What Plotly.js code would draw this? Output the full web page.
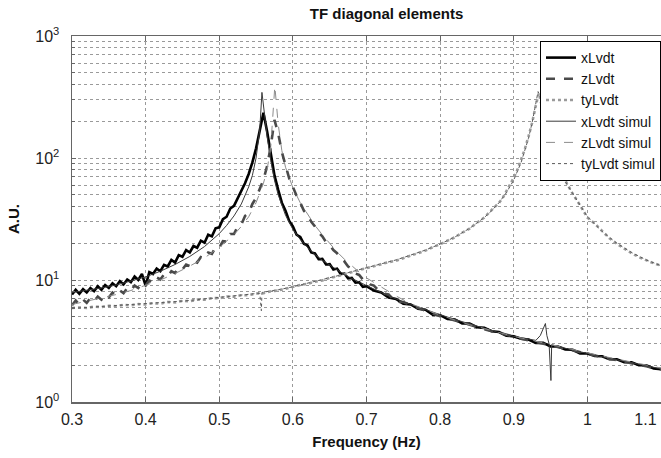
<!DOCTYPE html>
<html>
<head>
<meta charset="utf-8">
<script src="https://cdn.plot.ly/plotly-3.0.1.min.js"></script>
<style>html,body{margin:0;padding:0;background:#fff;}#chart{width:661px;height:458px;}</style>
</head>
<body>
<div id="chart"></div>
<script>
// ---------- data ----------
var seriesNames = ['xLvdt', 'zLvdt', 'tyLvdt', 'xLvdt simul', 'zLvdt simul', 'tyLvdt simul'];

var xLvdtF = [0.300,0.305,0.310,0.315,0.320,0.325,0.330,0.335,0.340,0.345,0.350,0.355,0.360,0.365,0.370,0.375,0.380,0.385,0.390,0.395,
  0.400,0.405,0.410,0.415,0.420,0.425,0.430,0.435,0.440,0.445,0.450,0.455,0.460,0.465,0.470,0.475,0.480,0.485,0.490,0.495,
  0.500,0.505,0.510,0.515,0.520,0.525,0.530,0.535,0.540,0.545,0.550,0.555,0.560,0.565,0.570,0.575,0.580,0.585,0.590,0.595,
  0.600,0.605,0.610,0.615,0.620,0.625,0.630,0.635,0.640,0.645,0.650,0.655,0.660,0.665,0.670,0.675,0.680,0.685,0.690,0.695,
  0.700,0.71,0.72,0.73,0.74,0.75,0.76,0.77,0.78,0.79,0.80,0.81,0.82,0.83,0.84,0.85,0.86,0.87,0.88,0.89,
  0.90,0.91,0.92,0.93,0.94,0.95,0.96,0.97,0.98,0.99,1.00,1.01,1.02,1.03,1.04,1.05,1.06,1.07,1.08,1.09,1.10];
var xLvdtA = [7.6,8.3,7.7,8.4,7.9,8.6,8.1,8.9,8.3,9.1,8.6,9.4,8.9,9.8,9.2,10.1,9.6,10.7,10.0,11.2,
  9.0,11.6,11.2,12.4,11.8,13.3,12.9,14.6,13.9,16.0,15.5,17.6,16.8,19.0,18.4,21.0,20.2,23.5,22.8,26.5,
  27.0,31.5,33.0,38.5,40.5,47.0,53.0,62.0,74.0,92.0,120,170,235,165,108,72,55,43,37,30.5,
  27.5,23.5,22.5,19.8,19.2,16.8,16.5,14.8,14.9,13.4,13.5,12.2,12.4,11.2,11.3,10.3,10.4,9.5,9.6,8.8,
  8.9,8.2,7.9,7.2,7.0,6.4,6.3,5.8,5.7,5.2,5.15,4.8,4.75,4.4,4.4,4.1,4.05,3.8,3.75,3.5,
  3.45,3.3,3.25,3.05,3.05,2.85,2.85,2.7,2.68,2.5,2.5,2.38,2.37,2.24,2.24,2.12,2.12,2.0,2.0,1.88,1.86];

var zLvdtF = [0.300,0.305,0.310,0.315,0.320,0.325,0.330,0.335,0.340,0.345,0.350,0.355,0.360,0.365,0.370,0.375,0.380,0.385,0.390,0.395,
  0.400,0.405,0.410,0.415,0.420,0.425,0.430,0.435,0.440,0.445,0.450,0.455,0.460,0.465,0.470,0.475,0.480,0.485,0.490,0.495,
  0.500,0.505,0.510,0.515,0.520,0.525,0.530,0.535,0.540,0.545,0.550,0.555,0.560,0.565,0.570,0.575,0.580,0.585,0.590,0.595,
  0.600,0.605,0.610,0.615,0.620,0.625,0.630,0.635,0.640,0.645,0.650,0.655,0.660,0.665,0.670,0.675,0.680,0.685,0.690,0.695,
  0.700,0.705,0.710,0.715,0.720,0.725,0.730,0.735,0.740,0.745,0.750,
  0.76,0.77,0.78,0.79,0.80,0.81,0.82,0.83,0.84,0.85,0.86,0.87,0.88,0.89,
  0.90,0.91,0.92,0.93,0.94,0.95,0.96,0.97,0.98,0.99,1.00,1.01,1.02,1.03,1.04,1.05,1.06,1.07,1.08,1.09,1.10];
var zLvdtA = [6.2,6.8,6.3,6.9,6.5,7.1,6.7,7.3,6.9,7.6,7.2,7.9,7.5,8.2,7.8,8.6,8.2,9.0,8.6,9.5,
  9.0,9.9,9.5,10.5,10.1,11.1,10.7,11.8,11.4,12.6,12.2,13.4,13.0,14.3,13.9,15.4,15.0,16.8,16.4,18.6,
  18.4,20.8,20.6,23.8,23.8,27.5,28.5,33.5,35.5,42.0,47.0,56.0,66.0,86.0,125,205,160,112,86,68,
  58,49,43,37,34,30,27.5,24.5,22.8,20.5,19.4,17.6,16.6,15.0,14.2,12.9,12.4,11.3,11.0,10.1,
  9.9,9.2,9.0,8.4,8.3,7.7,7.6,7.1,7.1,6.6,6.6,
  6.25,5.85,5.6,5.3,5.05,4.85,4.6,4.45,4.25,4.1,3.95,3.8,3.7,3.55,
  3.45,3.3,3.2,3.1,3.0,2.9,2.8,2.72,2.62,2.55,2.48,2.4,2.32,2.26,2.2,2.13,2.08,2.02,1.96,1.9,1.85];

var tyLvdtF = [0.30,0.31,0.32,0.33,0.34,0.35,0.36,0.37,0.38,0.39,0.40,0.41,0.42,0.43,0.44,0.45,0.46,0.47,0.48,0.49,
  0.50,0.51,0.52,0.53,0.54,0.55,0.56,0.57,0.58,0.59,0.60,0.61,0.62,0.63,0.64,0.65,0.66,0.67,0.68,0.69,
  0.70,0.71,0.72,0.73,0.74,0.75,0.76,0.77,0.78,0.79,0.80,0.81,0.82,0.83,0.84,0.85,0.86,0.87,0.88,0.885,
  0.89,0.895,0.90,0.905,0.91,0.915,0.92,0.925,0.93,0.934,0.938,0.942,0.946,0.95,0.955,0.96,0.965,0.97,0.975,0.98,
  0.99,1.00,1.01,1.02,1.03,1.04,1.05,1.06,1.07,1.08,1.09,1.10];
var tyLvdtA = [5.9,5.95,5.9,6.05,6.0,6.15,6.1,6.25,6.2,6.35,6.3,6.45,6.4,6.6,6.55,6.75,6.7,6.9,6.9,7.1,
  7.1,7.3,7.3,7.5,7.5,7.75,7.8,8.1,8.2,8.5,8.7,9.1,9.3,9.7,9.9,10.4,10.7,11.2,11.6,12.1,
  12.5,13.0,13.4,14.0,14.4,15.1,15.8,16.6,17.4,18.6,19.6,21.0,22.4,24.4,26.4,29.5,32.5,37.5,43,47,
  53,60,69,80,97,118,150,195,270,340,270,205,160,128,105,87,74,65,58,51,
  41,32.5,29,25,22,19.8,18.0,16.6,15.4,14.5,13.7,13.1];

var xSimF = [0.30,0.32,0.34,0.36,0.38,0.40,0.42,0.44,0.46,0.48,0.50,0.51,0.52,0.53,0.54,0.545,0.55,0.555,0.558,0.561,
  0.565,0.57,0.575,0.58,0.59,0.60,0.61,0.62,0.63,0.64,0.65,0.66,0.67,0.68,0.69,0.70,0.72,0.74,0.76,0.78,
  0.80,0.82,0.84,0.86,0.88,0.90,0.92,0.93,0.936,0.940,0.943,0.945,0.948,0.9505,0.9515,0.96,0.98,1.00,1.02,1.04,1.06,1.08,1.10];
var xSimA = [7.9,8.2,8.6,9.1,9.8,10.6,11.8,13.4,15.6,18.8,24,28,33.5,42,58,72,100,170,345,240,
  150,95,66,50,34,26,21.5,18.5,16.2,14.5,13.2,12.1,11.1,10.3,9.6,9.0,7.9,7.0,6.3,5.7,
  5.2,4.75,4.35,4.0,3.7,3.45,3.25,3.2,3.5,4.0,4.4,3.5,3.0,1.5,2.95,2.85,2.65,2.5,2.35,2.22,2.1,1.98,1.87];

var zSimF = [0.30,0.32,0.34,0.36,0.38,0.40,0.42,0.44,0.46,0.48,0.50,0.52,0.53,0.54,0.55,0.56,0.565,0.57,0.5755,0.58,
  0.585,0.59,0.60,0.61,0.62,0.63,0.64,0.65,0.66,0.67,0.68,0.69,0.70,0.72,0.74,0.76,0.78,
  0.80,0.82,0.84,0.86,0.88,0.90,0.92,0.94,0.96,0.98,1.00,1.02,1.04,1.06,1.08,1.10];
var zSimA = [6.3,6.7,7.1,7.6,8.2,9.0,10.0,11.3,13.0,15.2,18.5,23.5,27.5,33,43,62,80,125,390,190,
  115,84,57,43,34.5,28,23.5,20,17,14.8,13,11.6,10.4,8.7,7.4,6.4,5.7,
  5.15,4.7,4.3,4.0,3.7,3.45,3.25,3.05,2.85,2.68,2.52,2.38,2.25,2.12,2.0,1.9];

var tySimF = [0.30,0.32,0.34,0.36,0.38,0.40,0.42,0.44,0.46,0.48,0.50,0.52,0.54,0.555,0.5572,0.5580,0.56,0.58,0.60,0.62,
  0.64,0.66,0.68,0.70,0.72,0.74,0.76,0.78,0.80,0.82,0.84,0.86,0.87,0.88,0.89,0.90,0.91,0.92,0.925,0.93,
  0.933,0.936,0.94,0.945,0.95,0.96,0.97,0.98,0.99,1.00,1.02,1.04,1.06,1.08,1.10];
var tySimA = [5.85,5.95,6.05,6.15,6.25,6.35,6.5,6.65,6.8,7.0,7.2,7.4,7.6,7.8,5.6,7.9,7.95,8.3,8.8,9.4,
  10.0,10.8,11.7,12.6,13.6,14.6,16.0,17.6,19.7,22.5,26.5,32.5,37,43,52,66,92,145,195,280,
  350,320,240,170,127,86,64,51,41,33,25,20.0,16.8,14.6,13.1];

var xTickVals = [0.3,0.4,0.5,0.6,0.7,0.8,0.9,1.0,1.1];
var xTickText = ['0.3','0.4','0.5','0.6','0.7','0.8','0.9','1','1.1\u00a0\u00a0\u00a0\u00a0\u00a0\u00a0\u00a0'];
var yDecades = [1,10,100,1000];
var yDecadeText = ['10<sup>0</sup>','10<sup>1</sup>','10<sup>2</sup>','10<sup>3</sup>'];

// ---------- build ----------
var yMinorVals = [];
for (var d = 0; d < yDecades.length - 1; d++) {
  for (var m = 2; m <= 9; m++) { yMinorVals.push(yDecades[d] * m); }
}

var styles = [
  {color:'#000000', width:2.6, dash:'solid'},
  {color:'#4a4a4a', width:2.6, dash:'dash'},
  {color:'#9a9a9a', width:2.6, dash:'dot'},
  {color:'#3a3a3a', width:1, dash:'solid'},
  {color:'#8c8c8c', width:1, dash:'dash'},
  {color:'#5a5a5a', width:1, dash:'dot'}
];
var xs = [xLvdtF, zLvdtF, tyLvdtF, xSimF, zSimF, tySimF];
var ys = [xLvdtA, zLvdtA, tyLvdtA, xSimA, zSimA, tySimA];

var traces = [];
for (var i = 0; i < seriesNames.length; i++) {
  traces.push({
    type:'scatter', mode:'lines', name:seriesNames[i],
    x: xs[i], y: ys[i],
    line: {color:styles[i].color, width:styles[i].width, dash:styles[i].dash},
    hoverinfo:'skip'
  });
}

var FONT = 'Arial, "Liberation Sans", Helvetica, sans-serif';
var layout = {
  width:661, height:458,
  margin:{l:72, r:0, t:36, b:56, pad:0},
  paper_bgcolor:'#ffffff', plot_bgcolor:'#ffffff',
  font:{family:FONT, size:16, color:'#1a1a1a'},
  title:{text:'<b>TF diagonal elements</b>', font:{family:FONT, size:15, color:'#111'},
         x:353/661, xref:'paper', xanchor:'center', y:1-14/458, yref:'container', yanchor:'middle'},
  xaxis:{
    range:[0.3, 1.1], tickmode:'array', tickvals:xTickVals, ticktext:xTickText,
    ticks:'inside', ticklen:5, tickcolor:'#666', tickwidth:1,
    showline:true, linecolor:'#666', linewidth:1.5, mirror:'ticks',
    showgrid:true, gridcolor:'#9a9a9a', griddash:'dot', gridwidth:1,
    zeroline:false, tickfont:{family:FONT, size:16, color:'#222'},
    ticklabelstandoff:2, ticklabeloverflow:'allow',
    title:{text:'<b>Frequency (Hz)</b>', font:{family:FONT, size:15, color:'#111'}, standoff:10}
  },
  yaxis:{
    type:'log', range:[0, 3], tickmode:'array', tickvals:yDecades, ticktext:yDecadeText,
    ticks:'inside', ticklen:4, tickcolor:'#666', tickwidth:1,
    showline:true, linecolor:'#666', linewidth:1.5, mirror:false,
    showgrid:true, gridcolor:'#9a9a9a', griddash:'dot', gridwidth:1,
    minor:{tickmode:'array', tickvals:yMinorVals, ticks:'inside', ticklen:3, tickcolor:'#666',
           showgrid:true, gridcolor:'#9a9a9a', griddash:'dot', gridwidth:1},
    zeroline:false, tickfont:{family:FONT, size:16, color:'#222'},
    ticklabelstandoff:8, ticklabeloverflow:'allow',
    title:{text:'<b>A.U.</b>', font:{family:FONT, size:15, color:'#111'}, standoff:12}
  },
  showlegend:true,
  legend:{
    x:1, xanchor:'right', y:1-5/366, yanchor:'top',
    bgcolor:'#ffffff', bordercolor:'#000000', borderwidth:1,
    font:{family:FONT, size:14, color:'#111'},
    tracegroupgap:0, itemwidth:30
  }
};

Plotly.newPlot('chart', traces, layout, {displayModeBar:false, staticPlot:true});
</script>
</body>
</html>
